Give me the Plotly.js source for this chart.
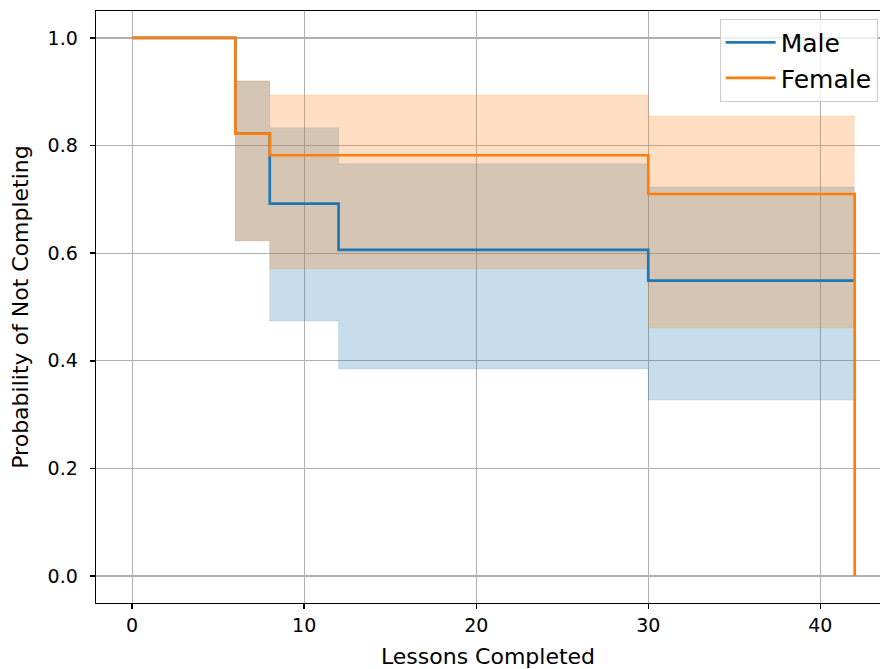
<!DOCTYPE html>
<html>
<head>
<meta charset="utf-8">
<script src="https://cdn.plot.ly/plotly-3.0.1.min.js"></script>
<style>html,body{margin:0;padding:0;background:#fff;}</style>
</head>
<body>
<div id="chart" style="width:880px;height:669px;"></div>
<script>
// Kaplan-Meier step data
const maleTimes = [0, 6, 8, 12, 30, 42];
const maleSurvival = [1.0, 0.822, 0.692, 0.606, 0.549, 0.549];
const maleLower = [1.0, 0.623, 0.474, 0.385, 0.327, 0.327];
const maleUpper = [1.0, 0.920, 0.833, 0.766, 0.723, 0.723];

const femaleTimes = [0, 6, 8, 30, 42];
const femaleSurvival = [1.0, 0.822, 0.782, 0.710, 0.0];
const femaleCITimes = [0, 6, 8, 30, 42];
const femaleLower = [1.0, 0.623, 0.571, 0.461, 0.461];
const femaleUpper = [1.0, 0.920, 0.894, 0.855, 0.855];

const xTicks = [0, 10, 20, 30, 40];
const yTicks = [0.0, 0.2, 0.4, 0.6, 0.8, 1.0];

const BLUE = '#1f77b4', ORANGE = '#ff7f0e';
const FONT = 'DejaVu Sans, sans-serif';

const traces = [
  {x: maleTimes, y: maleUpper, mode: 'lines', line: {width: 0.6, color: 'rgba(31,119,180,0.25)', shape: 'hv'}, showlegend: false, hoverinfo: 'skip'},
  {x: maleTimes, y: maleLower, mode: 'lines', line: {width: 0.6, color: 'rgba(31,119,180,0.25)', shape: 'hv'}, fill: 'tonexty',
   fillcolor: 'rgba(31,119,180,0.25)', showlegend: false, hoverinfo: 'skip'},
  {x: femaleCITimes, y: femaleUpper, mode: 'lines', line: {width: 0.6, color: 'rgba(255,127,14,0.25)', shape: 'hv'}, showlegend: false, hoverinfo: 'skip'},
  {x: femaleCITimes, y: femaleLower, mode: 'lines', line: {width: 0.6, color: 'rgba(255,127,14,0.25)', shape: 'hv'}, fill: 'tonexty',
   fillcolor: 'rgba(255,127,14,0.25)', showlegend: false, hoverinfo: 'skip'},
  {x: maleTimes, y: maleSurvival, mode: 'lines', name: 'Male', line: {color: BLUE, width: 2.7, shape: 'hv'}},
  {x: femaleTimes, y: femaleSurvival, mode: 'lines', name: 'Female', line: {color: ORANGE, width: 2.7, shape: 'hv'}}
];

const axisCommon = {
  showgrid: true, gridcolor: '#b0b0b0', gridwidth: 1.2,
  showline: true, linecolor: '#000', linewidth: 1.4,
  ticks: 'outside', ticklen: 5, tickwidth: 1.4, tickcolor: '#000',
  zeroline: false,
  tickfont: {family: FONT, size: 19, color: '#000'}
};

const layout = {
  width: 880, height: 669,
  margin: {l: 96, r: 0, t: 11, b: 66},
  paper_bgcolor: '#fff', plot_bgcolor: '#fff',
  font: {family: FONT, color: '#000'},
  xaxis: Object.assign({}, axisCommon, {
    range: [-2.1, 43.47], tickvals: xTicks, ticktext: xTicks.map(String),
    mirror: true,
    title: {text: 'Lessons Completed', font: {family: FONT, size: 22, color: '#000'}, standoff: 14}
  }),
  yaxis: Object.assign({}, axisCommon, {
    range: [-0.05, 1.05], tickvals: yTicks, ticktext: yTicks.map(v => v.toFixed(1)),
    ticklabelstandoff: 8,
    title: {text: 'Probability of Not Completing', font: {family: FONT, size: 22, color: '#000'}, standoff: 13}
  }),
  legend: {
    x: 0.997, xanchor: 'right', y: 0.987, yanchor: 'top',
    bgcolor: 'rgba(255,255,255,0.8)', bordercolor: '#cccccc', borderwidth: 1,
    font: {family: FONT, size: 25, color: '#000'},
    itemwidth: 50, tracegroupgap: 0, traceorder: 'normal'
  },
  showlegend: true
};

Plotly.newPlot('chart', traces, layout, {displayModeBar: false, staticPlot: true});
</script>
</body>
</html>
